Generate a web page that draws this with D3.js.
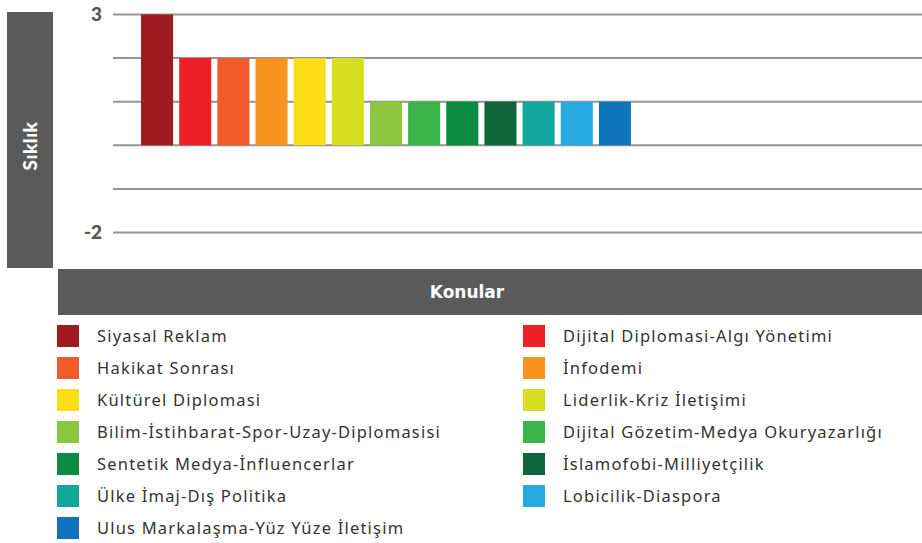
<!DOCTYPE html>
<html lang='tr'>
<head>
   <meta charset='UTF-8'>
   <title>Konular - Sıklık</title>
   <script src='https://cdn.jsdelivr.net/npm/d3@7'></script>
   <style>
      body { margin: 0; background: #fff; }
      svg { display: block; }
   </style>
</head>
<body>
   <div id='chart'></div>
   <script>
      const topics = [
         'Siyasal Reklam', 'Dijital Diplomasi-Algı Yönetimi', 'Hakikat Sonrası', 'İnfodemi',
         'Kültürel Diplomasi', 'Liderlik-Kriz İletişimi', 'Bilim-İstihbarat-Spor-Uzay-Diplomasisi',
         'Dijital Gözetim-Medya Okuryazarlığı', 'Sentetik Medya-İnfluencerlar', 'İslamofobi-Milliyetçilik',
         'Ülke İmaj-Dış Politika', 'Lobicilik-Diaspora', 'Ulus Markalaşma-Yüz Yüze İletişim'
      ];
      const frequency = [3, 2, 2, 2, 2, 2, 1, 1, 1, 1, 1, 1, 1];
      const colors = [
         '#9e1b21', '#ed1f27', '#f15a2b', '#f7931e', '#ffdd17', '#d7df23', '#8dc63f',
         '#3bb54a', '#0c8c43', '#0d6539', '#12a79d', '#27a9e1', '#1075bb'
      ];
      const gridValues = [3, 2, 1, 0, -1, -2];
      const tickLabels = [3, -2];

      const W = 922, H = 543;
      const svg = d3.select('#chart').append('svg').attr('width', W).attr('height', H);

      const y = d3.scaleLinear().domain([-2, 3]).range([232.5, 14.5]);
      const x = d3.scaleBand().domain(topics).range([138, 634])
         .paddingInner(0.16).paddingOuter(0.08);
      const color = d3.scaleOrdinal().domain(topics).range(colors);

      // grid lines
      svg.append('g').selectAll('line').data(gridValues).join('line')
         .attr('x1', 113).attr('x2', W)
         .attr('y1', d => y(d)).attr('y2', d => y(d))
         .attr('stroke', '#959595').attr('stroke-width', 2);

      // tick labels (only the ends are labelled)
      svg.append('g').selectAll('text').data(tickLabels).join('text')
         .attr('x', 102).attr('y', d => y(d)).attr('dy', '0.35em')
         .attr('text-anchor', 'end')
         .style('font-family', 'Lato, sans-serif').style('font-weight', 900)
         .style('font-size', '19px').attr('fill', '#555')
         .text(d => d);

      // bars
      svg.append('g').selectAll('rect').data(topics).join('rect')
         .attr('x', d => x(d)).attr('width', x.bandwidth())
         .attr('y', (d, i) => y(frequency[i]))
         .attr('height', (d, i) => y(0) - y(frequency[i]))
         .attr('fill', d => color(d));

      // axis title boxes
      svg.append('rect').attr('x', 7).attr('y', 12).attr('width', 46).attr('height', 256).attr('fill', '#5a5a5a');
      svg.append('text')
         .attr('transform', 'translate(30,146) rotate(-90)')
         .attr('text-anchor', 'middle').attr('dy', '0.35em')
         .style('font-family', 'Lato, sans-serif').style('font-weight', 900)
         .style('font-size', '19px').style('letter-spacing', '0.5px').attr('fill', '#fff')
         .text('Sıklık');

      svg.append('rect').attr('x', 58).attr('y', 269).attr('width', W - 58).attr('height', 46).attr('fill', '#5a5a5a');
      svg.append('text')
         .attr('x', 467).attr('y', 292).attr('dy', '0.35em')
         .attr('text-anchor', 'middle')
         .style('font-family', "'DejaVu Sans', sans-serif").style('font-weight', 700)
         .style('font-size', '17px').attr('fill', '#fff')
         .text('Konular');

      // legend, two columns
      const legend = svg.append('g').selectAll('g').data(topics).join('g')
         .attr('transform', (d, i) => `translate(${i % 2 === 0 ? 57 : 523}, ${325 + Math.floor(i / 2) * 32})`);
      legend.append('rect').attr('width', 22).attr('height', 22).attr('fill', d => color(d));
      legend.append('text')
         .attr('x', 40).attr('y', 11).attr('dy', '0.35em')
         .style('font-family', "'Noto Sans', sans-serif").style('font-size', '16.5px')
         .style('letter-spacing', '1.2px')
         .attr('fill', '#333')
         .text(d => d);
   </script>
</body>
</html>
